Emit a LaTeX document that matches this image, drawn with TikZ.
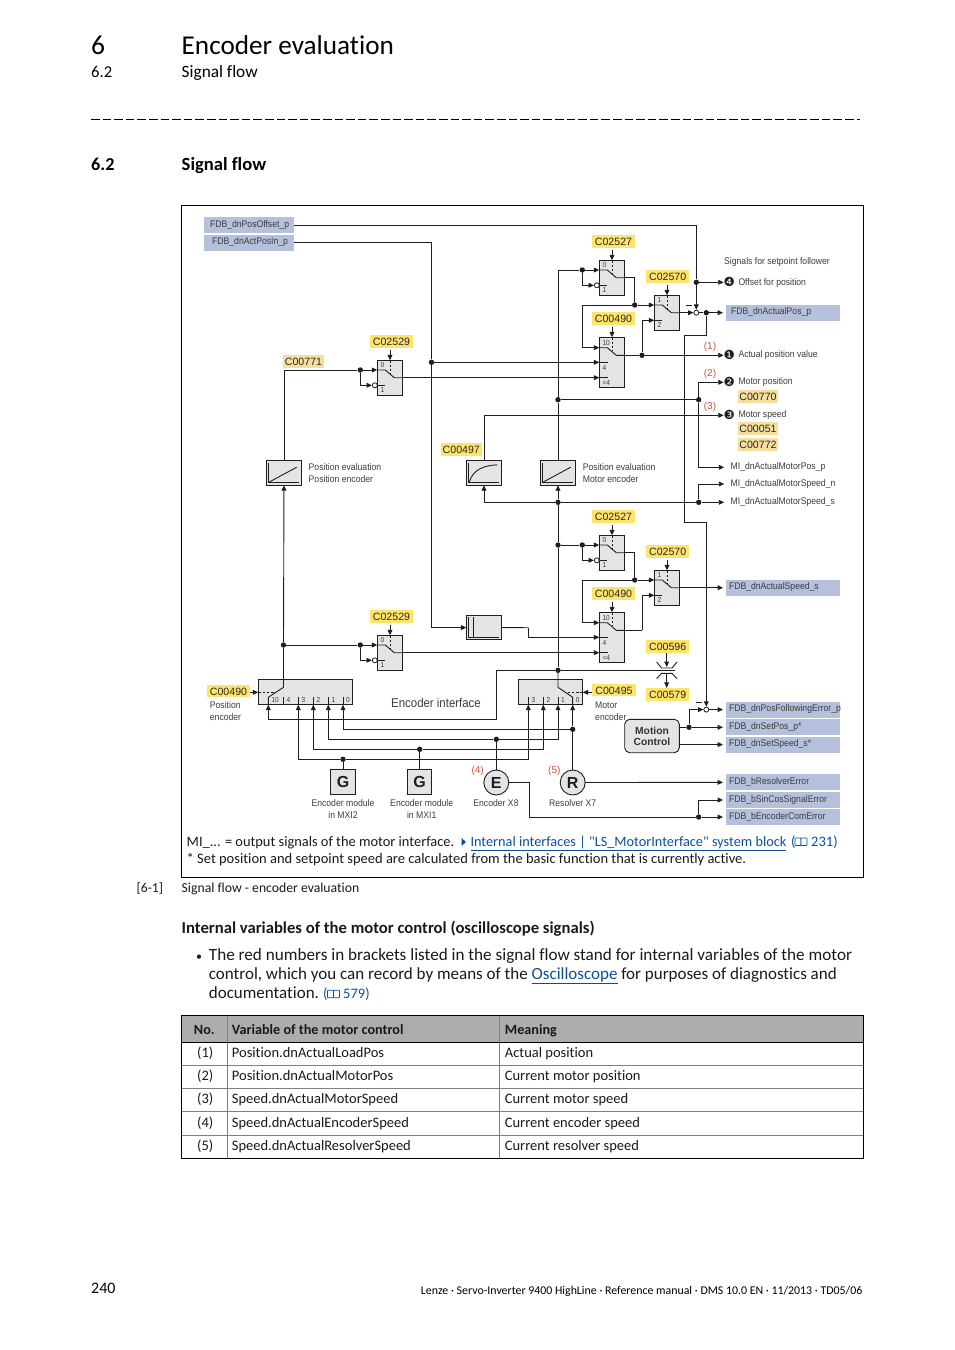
\documentclass[tikz,border=0pt]{standalone}
\usepackage{fontspec}
\setmainfont[Ligatures=NoCommon]{Carlito}
\newfontfamily\linkfont[Ligatures=NoCommon]{Carlito}
\newfontfamily\diagfont[FakeStretch=0.9]{Liberation Sans}
\newfontfamily\codefont{Liberation Sans}
\newfontfamily\dingfont{DejaVu Sans}
\usetikzlibrary{arrows.meta,calc}

\definecolor{wirecol}{HTML}{1E1E1E}
\definecolor{boxfill}{HTML}{E3E4E6}
\definecolor{portblue}{HTML}{B5C1DC}
\definecolor{codeyellow}{HTML}{FFE46C}
\definecolor{codetan}{HTML}{F6DF9E}
\definecolor{labelgrey}{HTML}{3C3C3C}
\definecolor{redno}{HTML}{C4553F}
\definecolor{linkblue}{HTML}{0B4F9C}
\definecolor{headgrey}{HTML}{ADADAD}
\definecolor{rowgrey}{HTML}{808080}

\tikzset{
	wire/.style={line width=0.9pt, draw=wirecol},
	sig/.style={wire, -{Triangle[length=5.4pt,width=4.8pt]}},
	seldash/.style={wire, dash pattern=on 2.6pt off 1.6pt},
	swbox/.style={draw=wirecol, line width=0.9pt, fill=boxfill, inner sep=0, outer sep=0},
	junction/.style={circle, fill=wirecol, minimum size=5.4pt, inner sep=0},
	hollow/.style={circle, draw=wirecol, line width=0.8pt, fill=white, minimum size=5pt, inner sep=0},
	portleft/.style={fill=portblue, text=labelgrey, font=\diagfont\fontsize{9.6}{11}\selectfont, minimum width=90pt, minimum height=16pt, inner ysep=0, inner xsep=6pt, text width=78pt, align=right, text height=6.5pt, text depth=2.5pt, outer sep=0},
	portright/.style={fill=portblue, text=labelgrey, font=\diagfont\fontsize{9.6}{11}\selectfont, minimum width=114pt, minimum height=16pt, inner ysep=0, inner xsep=3pt, text width=108pt, align=left, text height=6.5pt, text depth=2.5pt, outer sep=3pt},
	codeyel/.style={fill=codeyellow, text=black!85, font=\codefont\fontsize{10.6}{12}\selectfont, minimum width=43pt, minimum height=12.8pt, inner sep=0, outer sep=0, text height=8.4pt, text depth=0pt},
	codeold/.style={codeyel, fill=codetan},
	sigtext/.style={text=labelgrey, font=\diagfont\fontsize{9.6}{11.7}\selectfont, inner sep=0, align=left},
	sigend/.style={sigtext, anchor=west, outer sep=6.5pt},
	reda/.style={text=redno, font=\codefont\fontsize{10}{12}\selectfont, inner sep=0},
	tinylabel/.style={text=labelgrey, font=\diagfont\fontsize{7.3}{8}\selectfont, inner sep=0, anchor=west},
	dingno/.style={font=\dingfont\fontsize{12.6}{13}\selectfont, text=wirecol, inner sep=0, outer sep=0},
	bodytext/.style={font=\fontsize{14.5}{17}\selectfont, text=black!90, inner sep=0, anchor=base west},
	linktext/.style={bodytext, text=linkblue},
}

% switch with two inputs: name, x, y, upper input, lower input
\newcommand{\swtwo}[5]{
	\node[swbox, anchor=north west, minimum width=25.4pt, minimum height=35.4pt] (#1) at (#2,#3) {};
	\coordinate (#1-a) at (#2,#3+9.7);
	\coordinate (#1-b) at (#2,#3+25);
	\coordinate (#1-o) at (#2+25.4,#3+17.4);
	\coordinate (#1-t) at (#2+12.7,#3);
	\coordinate (#1-c) at (#2+12.7,#3-10);
	\draw[wire] (#1-a) -- ++(8,0) -- (#2+17,#3+17.4) -- (#1-o);
	\draw[wire] (#1-b) -- ++(8,0);
	\draw[seldash] (#1-t) -- ++(0,13);
	\draw[sig] (#1-c) -- (#1-t);
	\node[tinylabel] (#1-x) at (#2+3,#3+4.7) {#4};
	\node[tinylabel] (#1-y) at (#2+3,#3+30) {#5};
}
% switch with three inputs: name, x, y
\newcommand{\swthree}[3]{
	\node[swbox, anchor=north west, minimum width=25.4pt, minimum height=50.4pt] (#1) at (#2,#3) {};
	\coordinate (#1-a) at (#2,#3+10.4);
	\coordinate (#1-b) at (#2,#3+25);
	\coordinate (#1-l) at (#2,#3+40.4);
	\coordinate (#1-o) at (#2+25.4,#3+18);
	\coordinate (#1-t) at (#2+12.7,#3);
	\coordinate (#1-c) at (#2+12.7,#3-10);
	\draw[wire] (#1-a) -- ++(8,0) -- (#2+17,#3+18) -- (#1-o);
	\draw[wire] (#1-b) -- ++(8.7,0);
	\draw[wire] (#1-l) -- ++(8.7,0);
	\draw[seldash] (#1-t) -- ++(0,14);
	\draw[sig] (#1-c) -- (#1-t);
	\node[tinylabel] (#1-x) at (#2+3,#3+5.4) {10};
	\node[tinylabel] (#1-y) at (#2+3,#3+30.4) {4};
	\node[tinylabel] (#1-z) at (#2+3,#3+45.4) {<4};
}
% input tick of an encoder selector: name, x, number
\newcommand{\seltick}[3]{
	\coordinate (#1) at (#2,704.7);
	\draw[wire] (#1) -- ++(0,-8);
	\node[tinylabel] (#1-n) at (#2+3,700.4) {#3};
}
% evaluation block with axes: name, x, y
\newcommand{\evalbox}[3]{
	\node[swbox, anchor=north west, minimum width=35.4pt, minimum height=24.6pt] (#1) at (#2,#3) {};
	\draw[wire] (#2+2,#3+2) -- (#2+2,#3+21.7) -- (#2+33,#3+21.7);
}
% open book mark: x, y
\newcommand{\bookicon}[2]{
	\draw[linkblue, line width=0.7pt, rounded corners=0.6pt, fill=white] (#1,#2) rectangle ++(6,-7.6);
	\draw[linkblue, line width=0.7pt, rounded corners=0.6pt, fill=white] (#1+6,#2) rectangle ++(6,-7.6);
}

\begin{document}
\begin{tikzpicture}[x=1pt,y=-1pt]
	\useasboundingbox (0,0) rectangle (954,1350);
	%%%%% START %%%%%
	
	\node[inner sep=0, anchor=base west, font=\fontsize{27.5}{30}\selectfont] (chapno) at (91,54) {6};
	\node[inner sep=0, anchor=base west, font=\fontsize{27.2}{30}\selectfont] (chaptitle) at (181.5,54) {Encoder evaluation};
	\node[inner sep=0, anchor=base west, font=\fontsize{16.6}{18}\selectfont] (secno) at (91,77.3) {6.2};
	\node[inner sep=0, anchor=base west, font=\fontsize{17.3}{18}\selectfont] (sectitle) at (181.5,77.3) {Signal flow};
	\draw[line width=0.8pt, dash pattern=on 8.6pt off 3pt] (91,119.5) -- (860,119.5);
	\node[inner sep=0, anchor=base west, font=\fontsize{18.2}{20}\selectfont\bfseries] (headno) at (91,170.3) {6.2};
	\node[inner sep=0, anchor=base west, font=\fontsize{18.6}{20}\selectfont\bfseries] (headtitle) at (181.5,170.3) {Signal flow};
	
	\draw[line width=1pt] (181.5,205.5) rectangle (863.5,877.5);
	
	% ports
	\node[portleft] (b-offset) at (249,225.3) {FDB\_dnPosOffset\_p};
	\node[portleft] (b-act) at (249,242.7) {FDB\_dnActPosIn\_p};
	\node[portright] (b-pos) at (783,312.7) {\hspace{2pt}FDB\_dnActualPos\_p};
	\node[portright] (b-speed) at (783,587.7) {FDB\_dnActualSpeed\_s};
	\node[portright] (b-foll) at (783,709.6) {FDB\_dnPosFollowingError\_p};
	\node[portright] (b-set) at (783,727.3) {FDB\_dnSetPos\_p*};
	\node[portright] (b-sp) at (783,744.6) {FDB\_dnSetSpeed\_s*};
	\node[portright] (b-res) at (783,782.3) {FDB\_bResolverError};
	\node[portright] (b-sin) at (783,800) {FDB\_bSinCosSignalError};
	\node[portright] (b-com) at (783,817) {FDB\_bEncoderComError};
	
	% codes
	\node[codeyel] (c-2527a) at (613.5,241.3) {C02527};
	\node[codeyel] (c-2570a) at (667.7,276.7) {C02570};
	\node[codeyel] (c-490a) at (613.5,318.7) {C00490};
	\node[codeyel] (c-2529a) at (391.5,341.7) {C02529};
	\node[codeold, minimum width=41pt] (c-771) at (303.5,361.5) {C00771};
	\node[codeyel, minimum width=41pt] (c-497) at (461.3,449.2) {C00497};
	\node[codeold, minimum width=40pt] (c-770) at (758,396.4) {C00770};
	\node[codeold, minimum width=40pt] (c-051) at (758,428.2) {C00051};
	\node[codeold, minimum width=40pt] (c-772) at (758,444.2) {C00772};
	\node[codeyel] (c-2527b) at (613.5,516.3) {C02527};
	\node[codeyel] (c-2570b) at (667.7,551.7) {C02570};
	\node[codeyel] (c-490b) at (613.5,593.7) {C00490};
	\node[codeyel] (c-2529b) at (391.5,616.7) {C02529};
	\node[codeyel] (c-596) at (667.7,646.4) {C00596};
	\node[codeyel] (c-579) at (667.7,694.2) {C00579};
	\node[codeyel] (c-490c) at (228.5,690.9) {C00490};
	\node[codeyel, minimum width=44pt] (c-495) at (614,690) {C00495};
	
	% switches
	\swtwo{s1}{377.3}{360.3}{0}{1}
	\swtwo{s2}{599.3}{260.3}{0}{1}
	\swthree{s3}{599.3}{337.3}
	\swtwo{s5}{654.3}{295.3}{1}{2}
	\swtwo{s4}{599.3}{535.3}{0}{1}
	\swtwo{s6}{654.3}{570.3}{1}{2}
	\swthree{s7}{599.3}{612.3}
	\swtwo{s8}{377.3}{635.3}{0}{1}
	
	\node[hollow] (s1-n) at (374.8,385.3) {};
	\node[hollow] (s2-n) at (596.8,285.3) {};
	\node[hollow] (s4-n) at (596.8,560.3) {};
	\node[hollow] (s8-n) at (374.8,660.3) {};
	
	% evaluation blocks
	\evalbox{eval1}{266.3}{460.7}
	\draw[wire] (269.3,482) -- (296.7,467.2);
	\evalbox{evalc}{466.3}{460.7}
	\draw[wire] (469.3,482) .. controls (473,470) and (483,465.5) .. (497,464.8);
	\evalbox{evalm}{540.3}{460.7}
	\draw[wire] (543.3,482) -- (570.7,467.2);
	\evalbox{limb}{466.3}{615.3}
	\draw[wire] (473.6,617.3) -- (473.6,637);
	
	\node[sigtext, anchor=west] (t-eval1) at (308.5,472.8) {Position evaluation\\Position encoder};
	\node[sigtext, anchor=west] (t-evalm) at (582.7,472.8) {Position evaluation\\Motor encoder};
	
	% junctions
	\node[junction] (j-act) at (431.5,362.3) {};
	\node[junction] (j-off) at (696.3,282.3) {};
	\node[junction] (j-s1) at (360.3,370) {};
	\node[junction] (j-s8) at (360.3,645) {};
	\node[junction] (j-enc) at (283.5,645) {};
	\node[junction] (j-s2) at (582.3,270) {};
	\node[junction] (j-s4) at (582.3,545) {};
	\node[junction] (j-b400) at (558,399.7) {};
	\node[junction] (j-r400) at (698.7,399.7) {};
	\node[junction] (j-b502) at (558,502.3) {};
	\node[junction] (j-r502) at (698.7,502.3) {};
	\node[junction] (j-b545) at (558,545) {};
	\node[junction] (j-b670) at (558,670.3) {};
	\node[junction] (j-sw1) at (634.7,305) {};
	\node[junction] (j-sw2) at (634.7,580) {};
	\node[junction] (j-out) at (642,355.3) {};
	\node[junction] (j-fb) at (706.3,312.7) {};
	\node[junction] (j-r) at (572.7,729.3) {};
	\node[junction] (j-e) at (496.3,739.3) {};
	\node[junction] (j-g2) at (419.7,749.3) {};
	\node[junction] (j-g1) at (343,759.3) {};
	\node[junction] (j-mc) at (689,727.3) {};
	\node[junction] (j-err) at (698.7,817) {};
	\node[hollow] (h-top) at (696.3,312.7) {};
	\node[hollow] (h-low) at (706.3,709.6) {};
	
	% outputs at the right
	\node[dingno] (n-four) at (729.3,282.3) {❹};
	\node[dingno] (n-one) at (729.3,355.3) {❶};
	\node[dingno] (n-two) at (729.3,382.3) {❷};
	\node[dingno] (n-three) at (729.3,415.3) {❸};
	\node[sigtext, anchor=west] (t-follower) at (724,262) {Signals for setpoint follower};
	\node[sigtext, anchor=west] (t-four) at (738.3,282.7) {Offset for position};
	\node[sigtext, anchor=west] (t-one) at (738.3,355.4) {Actual position value};
	\node[sigtext, anchor=west] (t-two) at (738.3,382.3) {Motor position};
	\node[sigtext, anchor=west] (t-three) at (738.3,415.4) {Motor speed};
	\node[sigend] (l-mipos) at (724.2,467.3) {MI\_dnActualMotorPos\_p};
	\node[sigend] (l-min) at (724.2,484) {MI\_dnActualMotorSpeed\_n};
	\node[sigend] (l-mis) at (724.2,502.3) {MI\_dnActualMotorSpeed\_s};
	\node[reda] (r-one) at (710,346.7) {(1)};
	\node[reda] (r-two) at (710,373.5) {(2)};
	\node[reda] (r-three) at (710,406.7) {(3)};
	
	% upper signal path
	\draw[wire] (b-offset.east) -| (j-off);
	\draw[sig] (j-off) -- (h-top);
	\draw[sig] (j-off) -- (n-four);
	\draw[wire] (b-act.east) -| (j-act);
	\draw[sig] (j-act) -- (s3-b);
	\draw[sig] (j-act) |- (limb);
	\draw[wire] (eval1.north) |- (j-s1);
	\draw[sig] (j-s1) -- (s1-a);
	\draw[sig] (j-s1) |- (s1-n);
	\draw[sig] (s1-o) -- (s3-l);
	\draw[sig] (evalc.north) |- (n-three);
	\draw[wire] (evalm.north) -- (j-b400);
	\draw[wire] (j-b400) |- (j-s2);
	\draw[sig] (j-s2) -- (s2-a);
	\draw[sig] (j-s2) |- (s2-n);
	\draw[wire] (j-b400) -- (j-r400);
	\draw[sig] (j-r400) |- (n-two);
	\draw[sig] (j-r400) |- (l-mipos);
	\draw[wire] (s2-o) -| (j-sw1);
	\draw[sig] (j-sw1) -- (s5-a);
	\coordinate (k1) at (582.3,305);
	\draw[sig] (j-sw1) -- (k1) |- (s3-a);
	\draw[wire] (s3-o) -- (j-out);
	\draw[sig] (j-out) -- (n-one);
	\draw[sig] (j-out) |- (s5-b);
	\draw[sig] (s5-o) -- (h-top);
	\draw[wire] (h-top) -- (j-fb);
	\draw[sig] (j-fb) -- (b-pos);
	\coordinate (k2) at (684.3,335);
	\coordinate (k3) at (684.3,522.3);
	\draw[sig] (j-fb) |- (k2) -- (k3) -| (h-low);
	\draw[wire] (686,305.3) -- (692.2,305.3);
	\draw[wire] (696,702.2) -- (702,702.2);
	
	% lower signal path
	\draw[sig] (j-b502) -- (evalm);
	\draw[sig] (j-b502) -| (evalc);
	\draw[wire] (j-b502) -- (j-r502);
	\draw[sig] (j-r502) -- (l-mis);
	\draw[sig] (j-r502) |- (l-min);
	\draw[wire] (j-b502) -- (j-b545) -- (j-b670);
	\draw[wire] (j-b545) -- (j-s4);
	\draw[sig] (j-s4) -- (s4-a);
	\draw[sig] (j-s4) |- (s4-n);
	\draw[wire] (s4-o) -| (j-sw2);
	\draw[sig] (j-sw2) -- (s6-a);
	\coordinate (k5) at (582.3,580);
	\draw[sig] (j-sw2) -- (k5) |- (s7-a);
	\draw[sig] (s6-o) -- (b-speed);
	\coordinate (k6) at (642,630.3);
	\draw[wire] (s7-o) -- (k6);
	\draw[sig] (k6) |- (s6-b);
	\coordinate (k7) at (528.3,627.7);
	\draw[wire] (limb) -- (k7);
	\draw[sig] (k7) |- (s7-b);
	\draw[sig] (s8-o) -- (s7-l);
	\draw[sig] (j-enc) -- (eval1);
	\draw[wire] (j-enc) -- (j-s8);
	\draw[sig] (j-s8) -- (s8-a);
	\draw[sig] (j-s8) |- (s8-n);
	
	% encoder selectors
	\node[swbox, anchor=north west, minimum width=94.4pt, minimum height=25pt] (enc-l) at (258.3,679.7) {};
	\seltick{e10}{268.3}{10}
	\seltick{e4}{283.3}{4}
	\seltick{e3}{298.3}{3}
	\seltick{e2}{313.3}{2}
	\seltick{e1}{328.3}{1}
	\seltick{e0}{343}{0}
	\coordinate (e-top) at (283.5,687.3);
	\coordinate (e-mid) at (268.3,697.3);
	\coordinate (e-sel) at (258.3,692.3);
	\draw[wire] (j-enc) -- (e-top) -- (e-mid) -- (e10);
	\draw[seldash] (e-sel) -- ++(18,0);
	\draw[sig] (c-490c.east |- e-sel) -- (e-sel);
	
	\node[swbox, anchor=north west, minimum width=64.4pt, minimum height=25pt] (enc-m) at (518.3,679.7) {};
	\seltick{m3}{528.3}{3}
	\seltick{m2}{543.3}{2}
	\seltick{m1}{558}{1}
	\seltick{m0}{572.7}{0}
	\coordinate (m-top) at (558,687.3);
	\coordinate (m-mid) at (572.7,697.3);
	\coordinate (m-sel) at (582.7,692.3);
	\draw[wire] (j-b670) -- (m-top) -- (m-mid) -- (m0);
	\draw[seldash] (m-sel) -- ++(-18,0);
	\draw[sig] (c-495.west |- m-sel) -- (m-sel);
	
	\node[sigtext, anchor=west] (t-posenc) at (209.7,711) {Position\\encoder};
	\node[sigtext, anchor=west] (t-motenc) at (595,711.5) {Motor\\encoder};
	\node[sigtext, font=\diagfont\fontsize{12.7}{14}\selectfont] (t-encif) at (436,703) {Encoder interface};
	
	% encoders
	\node[swbox, minimum width=25.4pt, minimum height=25.4pt, text=wirecol, font=\codefont\bfseries\fontsize{16}{18}\selectfont] (gbox1) at (343,782) {G};
	\node[swbox, minimum width=24pt, minimum height=25.4pt, text=wirecol, font=\codefont\bfseries\fontsize{16}{18}\selectfont] (gbox2) at (419.7,782) {G};
	\node[swbox, circle, minimum size=25pt, text=wirecol, font=\codefont\bfseries\fontsize{16}{18}\selectfont] (ecirc) at (496.3,782.5) {E};
	\node[swbox, circle, minimum size=25pt, text=wirecol, font=\codefont\bfseries\fontsize{16}{18}\selectfont] (rcirc) at (572.7,782.5) {R};
	\node[sigtext, align=center] (t-g1) at (343,809.2) {Encoder module\\in MXI2};
	\node[sigtext, align=center] (t-g2) at (421.7,809.2) {Encoder module\\in MXI1};
	\node[sigtext] (t-e) at (496,803.3) {Encoder X8};
	\node[sigtext] (t-r) at (572.7,803.3) {Resolver X7};
	\node[reda] (r-four) at (477.7,771) {(4)};
	\node[reda] (r-five) at (554.3,770.5) {(5)};
	
	\coordinate (k9) at (496.3,719.3);
	\draw[sig] (j-b670) -| (k9) -| (e10);
	\draw[sig] (j-r) -| (e0);
	\draw[sig] (j-r) -- (m0);
	\draw[wire] (rcirc) -- (j-r);
	\draw[sig] (j-e) -| (e1);
	\draw[sig] (j-e) -| (m1);
	\draw[wire] (ecirc) -- (j-e);
	\draw[sig] (j-g2) -| (e2);
	\draw[sig] (j-g2) -| (m2);
	\draw[wire] (gbox2) -- (j-g2);
	\draw[sig] (j-g1) -| (e3);
	\draw[sig] (j-g1) -| (m3);
	\draw[wire] (gbox1) -- (j-g1);
	\draw[sig] (rcirc) -- (b-res);
	\coordinate (k12) at (529,817);
	\draw[wire] (ecirc) -| (k12) -- (j-err);
	\draw[sig] (j-err) -- (b-com);
	\draw[sig] (j-err) |- (b-sin);
	
	% limiter
	\coordinate (k-cap) at (675,670.3);
	\coordinate (cap-up) at (666.7,667);
	\coordinate (cap-dn) at (666.7,673.3);
	\draw[wire] (j-b670) -- (k-cap);
	\draw[wire] (656.7,662) -- (661.5,668) -- (672,668) -- (677,662);
	\draw[wire] (656.7,678.7) -- (661.5,673.3) -- (672,673.3) -- (677,678.7);
	\draw[sig] (c-596.south -| cap-up) -- (cap-up);
	\draw[sig] (cap-dn) -- (c-579.north -| cap-dn);
	
	% motion control
	\node[swbox, rounded corners=5pt, minimum width=54.6pt, minimum height=33.4pt, text=black!80, align=center, font=\codefont\bfseries\fontsize{10.3}{11}\selectfont] (mc) at (652,736) {Motion\\Control};
	\coordinate (mc-a) at (679.3,727.3);
	\coordinate (mc-b) at (679.3,744.6);
	\draw[wire] (mc-a) -- (j-mc);
	\draw[sig] (j-mc) -- (b-set);
	\draw[sig] (j-mc) |- (h-low);
	\draw[sig] (h-low) -- (b-foll);
	\draw[sig] (mc-b) -- (b-sp);
	
	% notes in the frame
	\node[bodytext, font=\fontsize{14.4}{17}\selectfont] (n-mi) at (186.5,846) {MI\_... = output signals of the motor interface.};
	\fill[linkblue] (461.5,838) -- (466,842) -- (461.5,846) -- cycle;
	\node[linktext, font=\fontsize{14.28}{17}\selectfont] (n-link) at (470.3,846) {\linkfont\underline{Internal interfaces | "LS\_MotorInterface" system block}};
	\node[linktext] (n-par) at (791,846) {(};
	\bookicon{795}{845.5}
	\node[linktext] (n-page) at (811,846) {231)};
	\node[bodytext] (n-set) at (186.5,863.3) {* Set position and setpoint speed are calculated from the basic function that is currently active.};
	
	% caption and text
	\node[bodytext, font=\fontsize{13.6}{15}\selectfont] (cap-no) at (136.5,892.3) {[6-1]};
	\node[bodytext, font=\fontsize{13.7}{15}\selectfont] (cap-txt) at (181.5,892.3) {Signal flow - encoder evaluation};
	\node[bodytext, font=\fontsize{16.67}{18}\selectfont\bfseries] (h-intern) at (181.5,933.3) {Internal variables of the motor control (oscilloscope signals)};
	\node[bodytext, font=\fontsize{12}{14}\selectfont] (bul) at (196,960) {•};
	\node[bodytext, font=\fontsize{17.15}{19}\selectfont] (par1) at (208.7,960.7) {The red numbers in brackets listed in the signal flow stand for internal variables of the motor};
	\node[bodytext, font=\fontsize{17}{19}\selectfont] (par2) at (208.7,979.5) {control, which you can record by means of the \textcolor{linkblue}{\underline{Oscilloscope}} for purposes of diagnostics and};
	\node[bodytext, font=\fontsize{17}{19}\selectfont] (par3) at (208.7,998.3) {documentation.};
	\node[linktext] (par-a) at (323,998.3) {(};
	\bookicon{327.5}{997.8}
	\node[linktext] (par-b) at (343,998.3) {579)};
	
	% table
	\fill[headgrey] (181.5,1015.7) rectangle (863.5,1042.3);
	\draw[rowgrey, line width=0.8pt] (181.5,1065.3) -- (863.5,1065.3);
	\draw[rowgrey, line width=0.8pt] (181.5,1088.3) -- (863.5,1088.3);
	\draw[rowgrey, line width=0.8pt] (181.5,1111.3) -- (863.5,1111.3);
	\draw[rowgrey, line width=0.8pt] (181.5,1135.3) -- (863.5,1135.3);
	\draw[rowgrey, line width=0.8pt] (227.3,1015.7) -- (227.3,1158.3);
	\draw[rowgrey, line width=0.8pt] (499.3,1015.7) -- (499.3,1158.3);
	\draw[line width=0.9pt] (181.5,1042.3) -- (863.5,1042.3);
	\draw[line width=0.9pt] (181.5,1015.7) rectangle (863.5,1158.3);
	
	\node[bodytext, font=\fontsize{14.2}{17}\selectfont\bfseries] (th-no) at (193.7,1034.3) {No.};
	\node[bodytext, font=\fontsize{14.2}{17}\selectfont\bfseries] (th-var) at (231.7,1034.3) {Variable of the motor control};
	\node[bodytext, font=\fontsize{14.2}{17}\selectfont\bfseries] (th-mean) at (504.7,1034.3) {Meaning};
	\node[bodytext] (r1-a) at (197,1057.3) {(1)};
	\node[bodytext] (r1-b) at (231.7,1057.3) {Position.dnActualLoadPos};
	\node[bodytext] (r1-c) at (504.7,1057.3) {Actual position};
	\node[bodytext] (r2-a) at (197,1080.3) {(2)};
	\node[bodytext] (r2-b) at (231.7,1080.3) {Position.dnActualMotorPos};
	\node[bodytext] (r2-c) at (504.7,1080.3) {Current motor position};
	\node[bodytext] (r3-a) at (197,1103.3) {(3)};
	\node[bodytext] (r3-b) at (231.7,1103.3) {Speed.dnActualMotorSpeed};
	\node[bodytext] (r3-c) at (504.7,1103.3) {Current motor speed};
	\node[bodytext] (r4-a) at (197,1127.3) {(4)};
	\node[bodytext] (r4-b) at (231.7,1127.3) {Speed.dnActualEncoderSpeed};
	\node[bodytext] (r4-c) at (504.7,1127.3) {Current encoder speed};
	\node[bodytext] (r5-a) at (197,1150.3) {(5)};
	\node[bodytext] (r5-b) at (231.7,1150.3) {Speed.dnActualResolverSpeed};
	\node[bodytext] (r5-c) at (504.7,1150.3) {Current resolver speed};
	
	% footer
	\node[inner sep=0, anchor=base west, font=\fontsize{16}{18}\selectfont] (pageno) at (91,1293.5) {240};
	\node[inner sep=0, anchor=base east, font=\fontsize{11.86}{13}\selectfont] (foot) at (862.5,1294) {Lenze · Servo-Inverter 9400 HighLine · Reference manual · DMS 10.0 EN · 11/2013 · TD05/06};
	
	%%%%% END %%%%%
\end{tikzpicture}
\end{document}
